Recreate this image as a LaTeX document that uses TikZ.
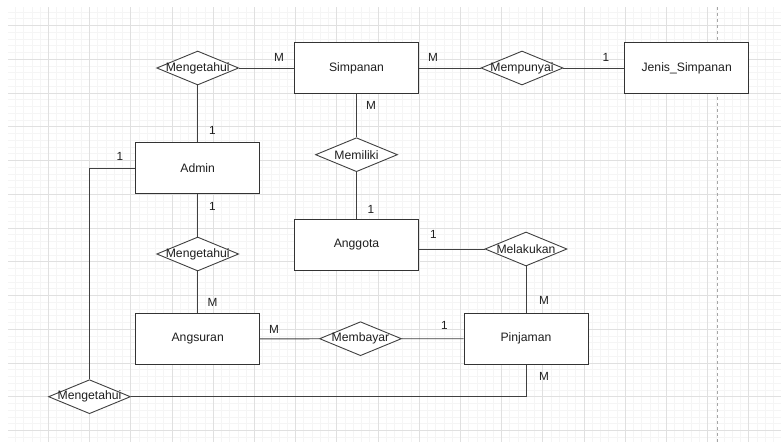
\documentclass[tikz,border=0pt]{standalone}
\usepackage{fontspec}
\setmainfont{Liberation Sans}
\usepackage{tikz}
\usetikzlibrary{shapes.geometric}
\tikzset{
  ent/.style={draw=black!80, fill=white, line width=0.9pt, minimum width=124pt, minimum height=51pt, inner sep=0pt, text=black!88, font=\fontsize{12.2}{14}\selectfont},
  rel/.style={draw=black!75, fill=white, line width=0.9pt, diamond, minimum width=82pt, minimum height=34pt, inner sep=0pt, text=black!88, font=\fontsize{12.2}{14}\selectfont},
  card/.style={inner sep=0pt, text=black!88, font=\fontsize{11.8}{14}\selectfont},
  conn/.style={draw=black!75, line width=0.9pt},
  minorgrid/.style={draw=black!4, line width=0.5pt},
  majorgrid/.style={draw=black!12, line width=0.6pt},
}

\begin{document}
\begin{tikzpicture}[x=1pt, y=-1pt]
  \useasboundingbox (0,0) rectangle (781,442);
  % grid of the canvas
  \begin{scope}
    \clip (8,7) rectangle (781,442);
    \foreach \i in {0,...,94} \draw[minorgrid] ({7.1+8.24*\i},7) -- ++(0,435);
    \foreach \j in {0,...,64} \draw[minorgrid] (8,{11.8+6.75*\j}) -- ++(773,0);
    \foreach \i in {0,...,18} \draw[majorgrid] ({7.1+41.2*\i},7) -- ++(0,435);
    \foreach \j in {0,...,12} \draw[majorgrid] (8,{25.3+33.75*\j}) -- ++(773,0);
  \end{scope}
  \draw[dashed, draw=black!35, line width=0.6pt] (717.5,7) -- (717.5,442);

  % entities
  \node[ent] (simp) at (356.5,68) {Simpanan};
  \node[ent] (jenis) at (686.7,68) {Jenis\_Simpanan};
  \node[ent] (admin) at (197.7,168) {Admin};
  \node[ent] (anggota) at (356.5,245) {Anggota};
  \node[ent] (angsuran) at (197.7,339) {Angsuran};
  \node[ent] (pinjaman) at (526,338.7) {Pinjaman};

  % relations
  \node[rel] (meng1) at (197.7,68) {\makebox[0pt]{Mengetahui}};
  \node[rel] (mempunyai) at (522,68) {\makebox[0pt]{Mempunyai}};
  \node[rel] (memiliki) at (356.5,154.7) {\makebox[0pt]{Memiliki}};
  \node[rel] (meng2) at (197.7,254) {\makebox[0pt]{Mengetahui}};
  \node[rel] (membayar) at (360.5,338.7) {\makebox[0pt]{Membayar}};
  \node[rel] (melakukan) at (526,249) {\makebox[0pt]{Melakukan}};
  \node[rel] (meng3) at (89.5,396.7) {\makebox[0pt]{Mengetahui}};

  % connectors
  \draw[conn] (meng1) -- (simp);
  \draw[conn] (meng1) -- (admin);
  \draw[conn] (simp) -- (mempunyai) -- (jenis);
  \draw[conn] (simp) -- (memiliki) -- (anggota);
  \draw[conn] (admin) -- (meng2) -- (angsuran);
  \draw[conn] (angsuran) -- (membayar) -- (pinjaman);
  \draw[conn] (melakukan.west) -- (melakukan.west -| anggota.east);
  \draw[conn] (melakukan) -- (pinjaman);
  \draw[conn] (pinjaman.south) |- (meng3.east);
  \draw[conn] (admin.west) -| (meng3.north);

  % cardinalities
  \node[card] (c1) at (279,57) {M};
  \node[card] (c2) at (212.5,130.5) {1};
  \node[card] (c3) at (433,57) {M};
  \node[card] (c4) at (606,57) {1};
  \node[card] (c5) at (371,105.3) {M};
  \node[card] (c6) at (371,209.3) {1};
  \node[card] (c7) at (212.5,206) {1};
  \node[card] (c8) at (212.5,302) {M};
  \node[card] (c9) at (274,329.3) {M};
  \node[card] (c10) at (444.3,325.3) {1};
  \node[card] (c11) at (433.3,234.3) {1};
  \node[card] (c12) at (544,300.7) {M};
  \node[card] (c13) at (544,376.7) {M};
  \node[card] (c14) at (120,156) {1};
\end{tikzpicture}
\end{document}
